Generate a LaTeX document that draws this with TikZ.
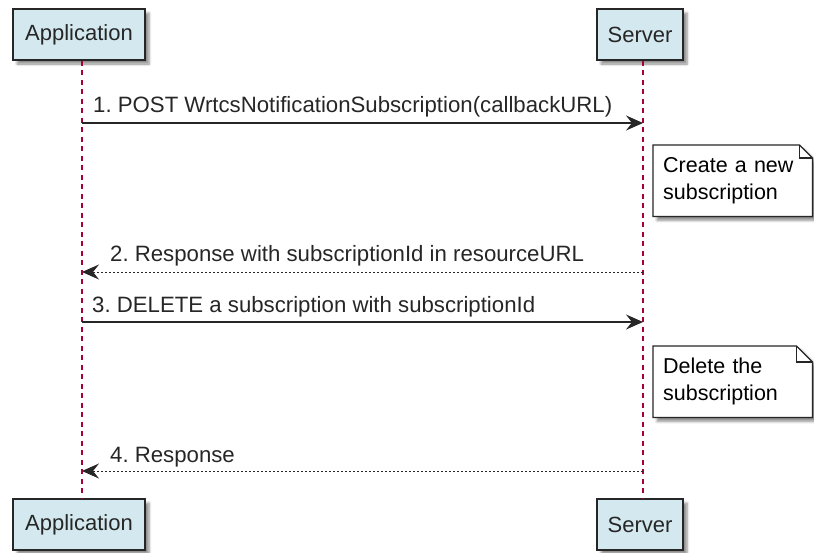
\documentclass[tikz,border=0pt]{standalone}
\usepackage{fontspec}
\setmainfont{Liberation Sans}
\usepackage{tikz}
\usetikzlibrary{arrows.meta,shadows.blur,backgrounds}

\definecolor{lifeRed}{RGB}{168,0,54}
\definecolor{partBlue}{RGB}{211,233,239}

\tikzset{
    boxShadow/.style={blur shadow={shadow xshift=4pt,shadow yshift=-4pt,
        shadow blur radius=2.5pt,shadow blur steps=6,shadow opacity=45}},
    partbox/.style={draw=black!85,line width=1.5pt,fill=partBlue,
        minimum width=#1,minimum height=51pt,inner sep=0pt,boxShadow,
        font=\fontsize{22}{27}\selectfont},
    lifeline/.style={draw=lifeRed,line width=1.2pt,dash pattern=on 5pt off 4.5pt},
    notetext/.style={anchor=north west,text width=139pt,inner xsep=10pt,
        inner ysep=0pt,minimum height=71pt,align=left},
    noteline/.style={draw=black!85,line width=1.2pt,fill=white},
    msgtext/.style={anchor=base west,inner sep=0pt,text=black!85,
        font=\fontsize{22.2}{27}\selectfont}
}

\begin{document}
\frenchspacing
\begin{tikzpicture}[x=1pt,y=-1pt,font=\fontsize{21.5}{27}\selectfont]
\useasboundingbox (0,0) rectangle (814,552);

% participants
\begin{scope}[text=black!85]
    \node[partbox=132pt] (appTop) at (79,34.5) {Application};
    \node[partbox=86pt] (srvTop) at (640,34.5) {Server};
    \node[partbox=132pt] (appBot) at (79,524.5) {Application};
    \node[partbox=86pt] (srvBot) at (640,524.5) {Server};
\end{scope}

% lifelines
\draw[lifeline] ([xshift=3pt]appTop.south) -- ([xshift=3pt]appBot.north);
\draw[lifeline] ([xshift=3pt]srvTop.south) -- ([xshift=3pt]srvBot.north);

% message ends on the lifelines
\coordinate (app1) at (82,123);
\coordinate (srv1) at (643,123);
\coordinate (app2) at (82,272);
\coordinate (srv2) at (643,272);
\coordinate (app3) at (82,322);
\coordinate (srv3) at (643,322);
\coordinate (app4) at (82,471);
\coordinate (srv4) at (643,471);

\begin{scope}[>={Stealth[length=17pt,width=15pt,inset=6pt]},
              every edge/.style={draw=black!85}]
    \path [->,line width=1.4pt] (app1) edge (srv1);
    \path [->,line width=1pt,dash pattern=on 2pt off 2pt] (srv2) edge (app2);
    \path [->,line width=1.4pt] (app3) edge (srv3);
    \path [->,line width=1pt,dash pattern=on 2pt off 2pt] (srv4) edge (app4);
\end{scope}

% message labels
\node[msgtext] (msg1) at (93,112) {1. POST WrtcsNotificationSubscription(callbackURL)};
\node[msgtext] (msg2) at (110,261) {2. Response with subscriptionId in resourceURL};
\node[msgtext] (msg3) at (92,312) {3. DELETE a subscription with subscriptionId};
\node[msgtext] (msg4) at (110,462) {4. Response};

% notes
\node[notetext] (note1) at (653,145) {Create a new\\subscription};
\node[notetext] (note2) at (653,346) {Delete the\\subscription};

\begin{scope}[on background layer]
\foreach \n/\f in {note1/13pt,note2/16pt} {
    \path[noteline,boxShadow] (\n.north west) -- ([xshift=-\f]\n.north east)
        -- ([yshift=-\f]\n.north east) -- (\n.south east) -- (\n.south west) -- cycle;
    \draw[noteline,fill=none] ([xshift=-\f]\n.north east) |- ([yshift=-\f]\n.north east);
}
\end{scope}
\end{tikzpicture}
\end{document}
